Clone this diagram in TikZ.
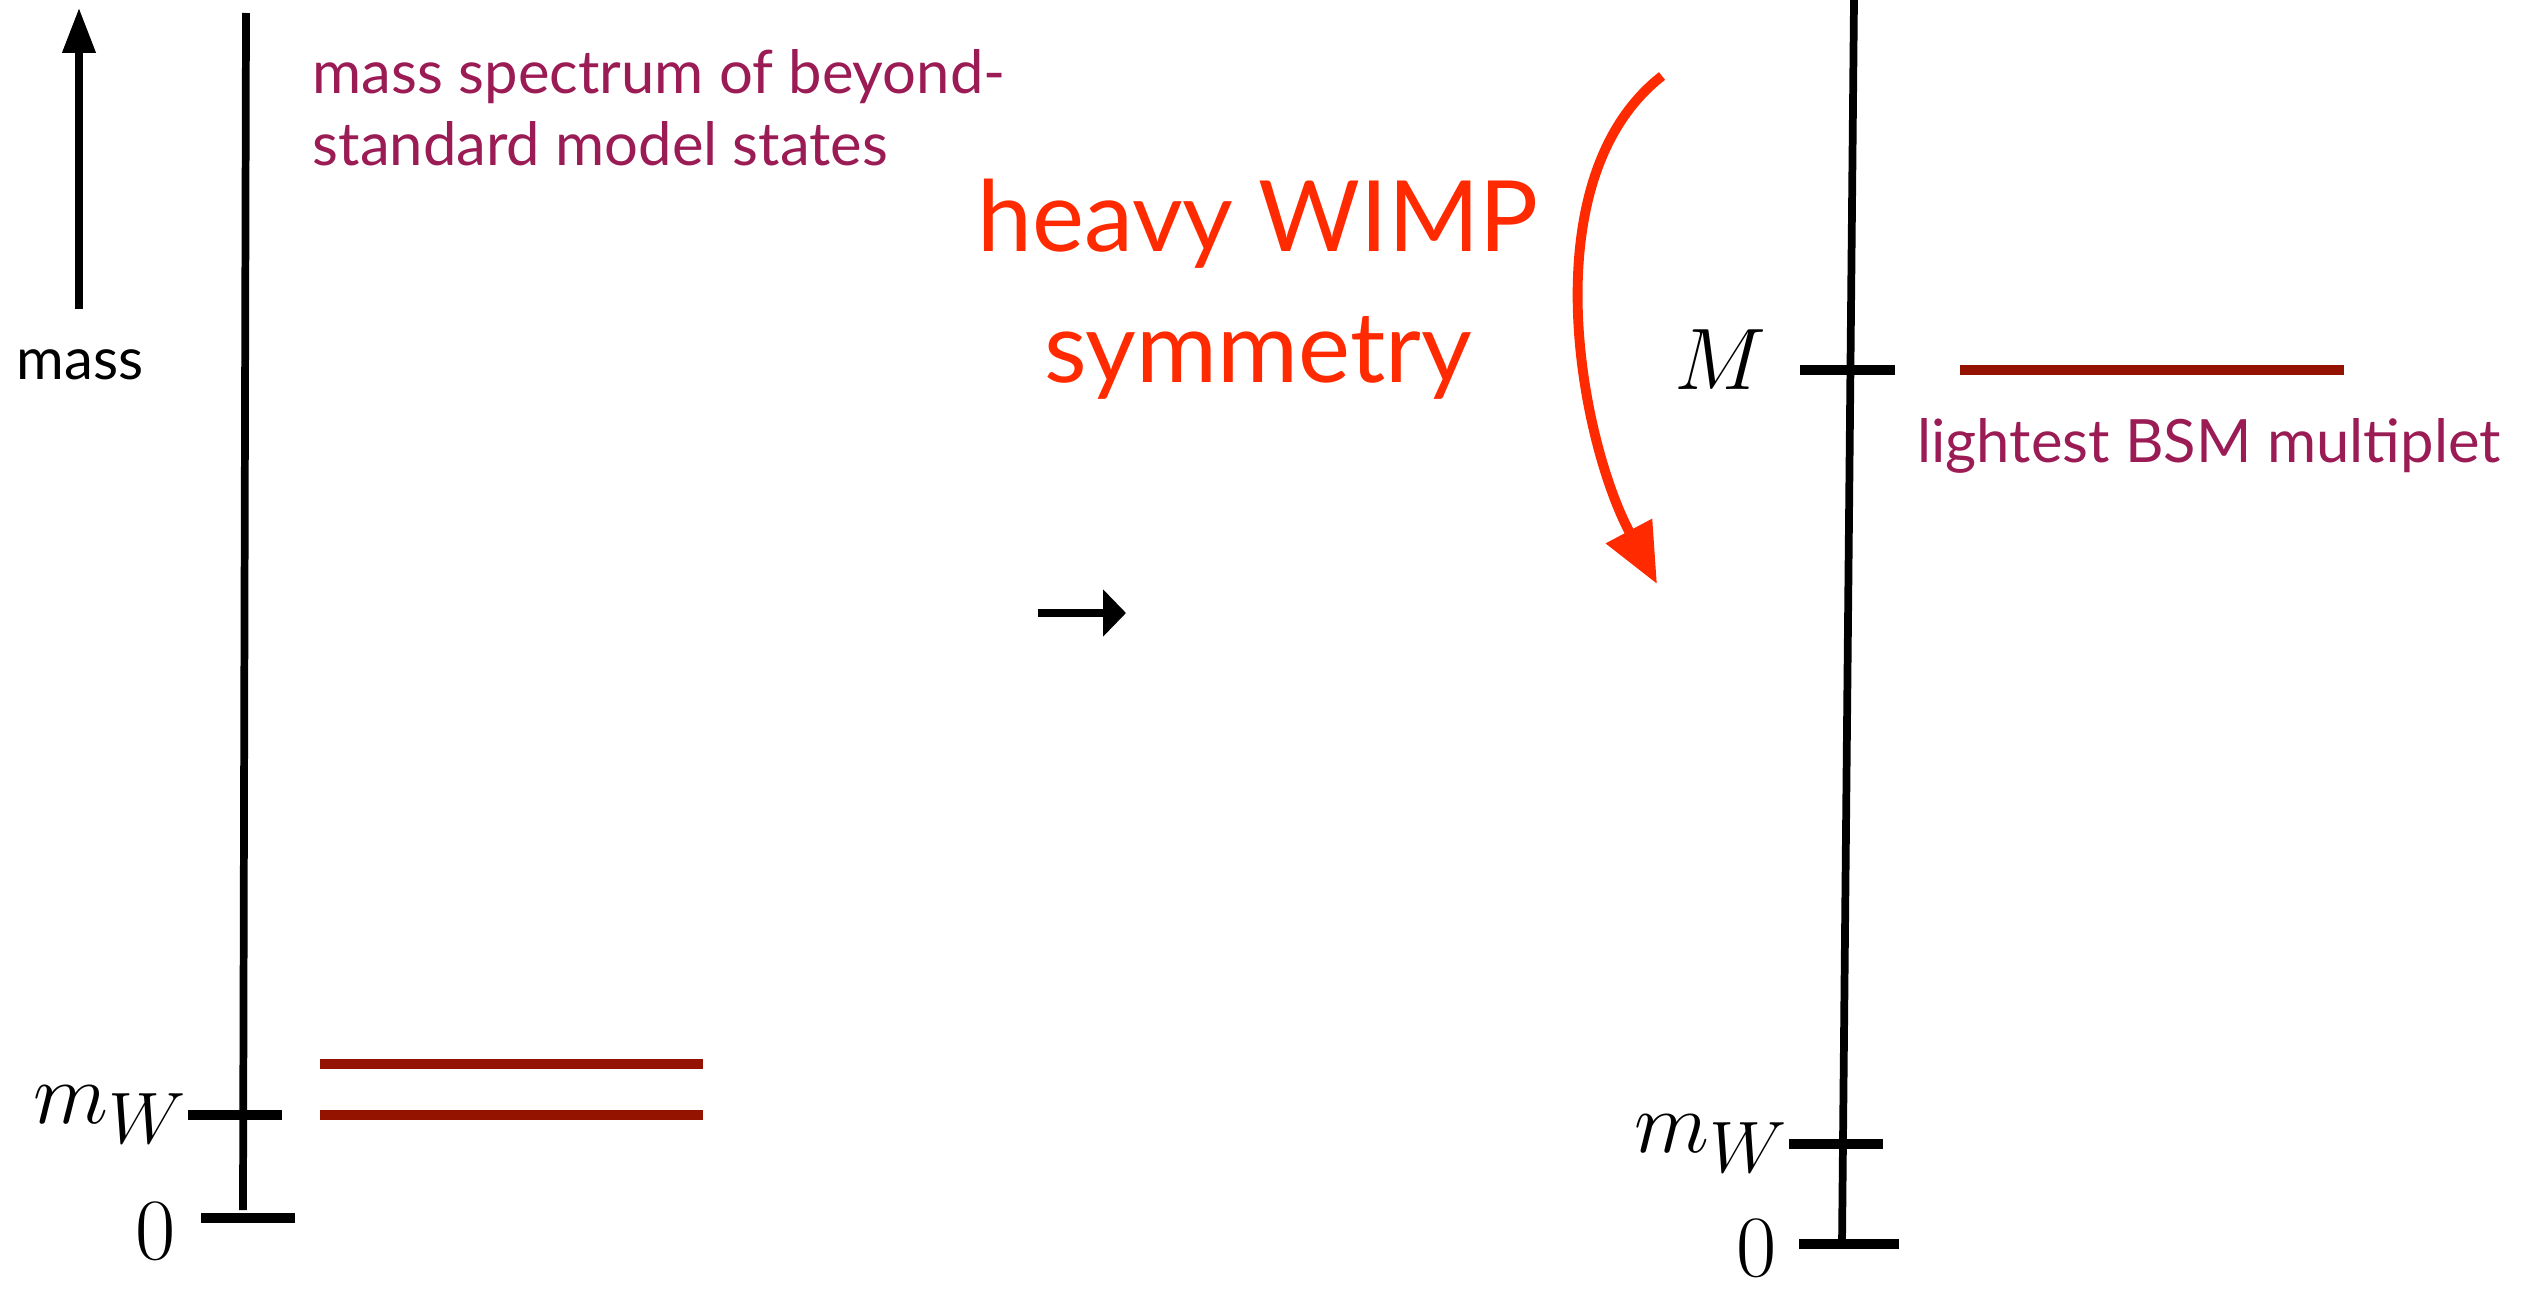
\documentclass[tikz,border=0pt]{standalone}
\usepackage{fontspec}
\newfontfamily\gillfont{Lato}
\usetikzlibrary{arrows.meta, positioning}

\definecolor{bsmpurple}{HTML}{9B1B55}
\definecolor{wimpred}{HTML}{FF2A00}
\definecolor{leveldark}{HTML}{941200}

\begin{document}
\begin{tikzpicture}[
  axisline/.style={line width=2.2pt, black},
  tickmark/.style={line width=2.8pt, black},
  bsmlevel/.style={line width=2.8pt, leveldark},
  mathlabel/.style={font=\fontsize{28}{30}\selectfont, inner sep=0pt},
  plaintext/.style={font=\gillfont\fontsize{16.5}{20}\selectfont, inner sep=0pt},
  bsmtext/.style={font=\gillfont\fontsize{17}{20.5}\selectfont, text=bsmpurple, inner sep=0pt, align=left},
  wimptext/.style={font=\gillfont\fontsize{28}{37.3}\selectfont, text=wimpred, inner sep=0pt, align=center},
  massarrow/.style={-{Triangle[length=4.5mm, width=3.2mm]}, line width=2.1pt, black},
  maparrow/.style={-{Triangle[length=2.3mm, width=4.6mm]}, line width=2pt, black},
  symarrow/.style={-{Triangle[length=6mm, width=5mm]}, line width=2.8pt, wimpred}
]
\useasboundingbox (0,0) rectangle (25.23,12.89);

% mass direction
\coordinate (mfoot) at (0.79,9.80);
\coordinate (mhead) at (0.79,12.81);
\draw[massarrow] (mfoot) -- (mhead);
\node[plaintext] (masstext) at (0.80,9.24) {mass};

% spectrum before
\coordinate (ltop) at (2.46,12.76);
\coordinate (lbot) at (2.43,0.79);
\draw[axisline] (ltop) -- (lbot);
\coordinate (lmwa) at (1.88,1.74);
\coordinate (lmwb) at (2.82,1.74);
\draw[tickmark] (lmwa) -- (lmwb);
\node[mathlabel, anchor=east] (lmw) at (lmwa) {$m_W$};
\coordinate (lzeroa) at (2.01,0.71);
\coordinate (lzerob) at (2.95,0.71);
\draw[tickmark] (lzeroa) -- (lzerob);
\node[mathlabel] (lzero) at (1.56,0.58) {$0$};

\coordinate (lvla) at (3.20,2.25);
\coordinate (lvlb) at (7.03,2.25);
\coordinate (lvlc) at (3.20,1.74);
\coordinate (lvld) at (7.03,1.74);
\draw[bsmlevel] (lvla) -- (lvlb);
\draw[bsmlevel] (lvlc) -- (lvld);
\node[bsmtext, anchor=north west] (bsmtitle) at (3.12,12.40) {mass spectrum of beyond-\\standard model states};

% the map between the two
\coordinate (mapa) at (10.38,6.76);
\coordinate (mapb) at (11.26,6.76);
\draw[maparrow] (mapa) -- (mapb);
\node[wimptext] (wimp) at (12.58,10.0) {heavy WIMP\\symmetry};
\coordinate (symfrom) at (16.62,12.13);
\coordinate (symto) at (16.57,7.05);
\draw[symarrow] (symfrom) .. controls (15.3,11.1) and (15.8,8.5) .. (symto);

% spectrum after
\coordinate (rtop) at (18.54,12.89);
\coordinate (rbot) at (18.42,0.45);
\draw[axisline] (rtop) -- (rbot);
\coordinate (rMa) at (18.00,9.19);
\coordinate (rMb) at (18.95,9.19);
\draw[tickmark] (rMa) -- (rMb);
\node[mathlabel] (rM) at (17.20,9.29) {$M$};
\coordinate (rlvla) at (19.60,9.19);
\coordinate (rlvlb) at (23.44,9.19);
\draw[bsmlevel] (rlvla) -- (rlvlb);
\node[bsmtext] (lightest) at (22.09,8.43) {lightest BSM multiplet};
\coordinate (rmwa) at (17.89,1.45);
\coordinate (rmwb) at (18.83,1.45);
\draw[tickmark] (rmwa) -- (rmwb);
\node[mathlabel, anchor=east] (rmw) at (rmwa) {$m_W$};
\coordinate (rzeroa) at (17.99,0.45);
\coordinate (rzerob) at (18.99,0.45);
\draw[tickmark] (rzeroa) -- (rzerob);
\node[mathlabel, anchor=south] (rzero) at (17.57,0.12) {$0$};
\end{tikzpicture}
\end{document}
